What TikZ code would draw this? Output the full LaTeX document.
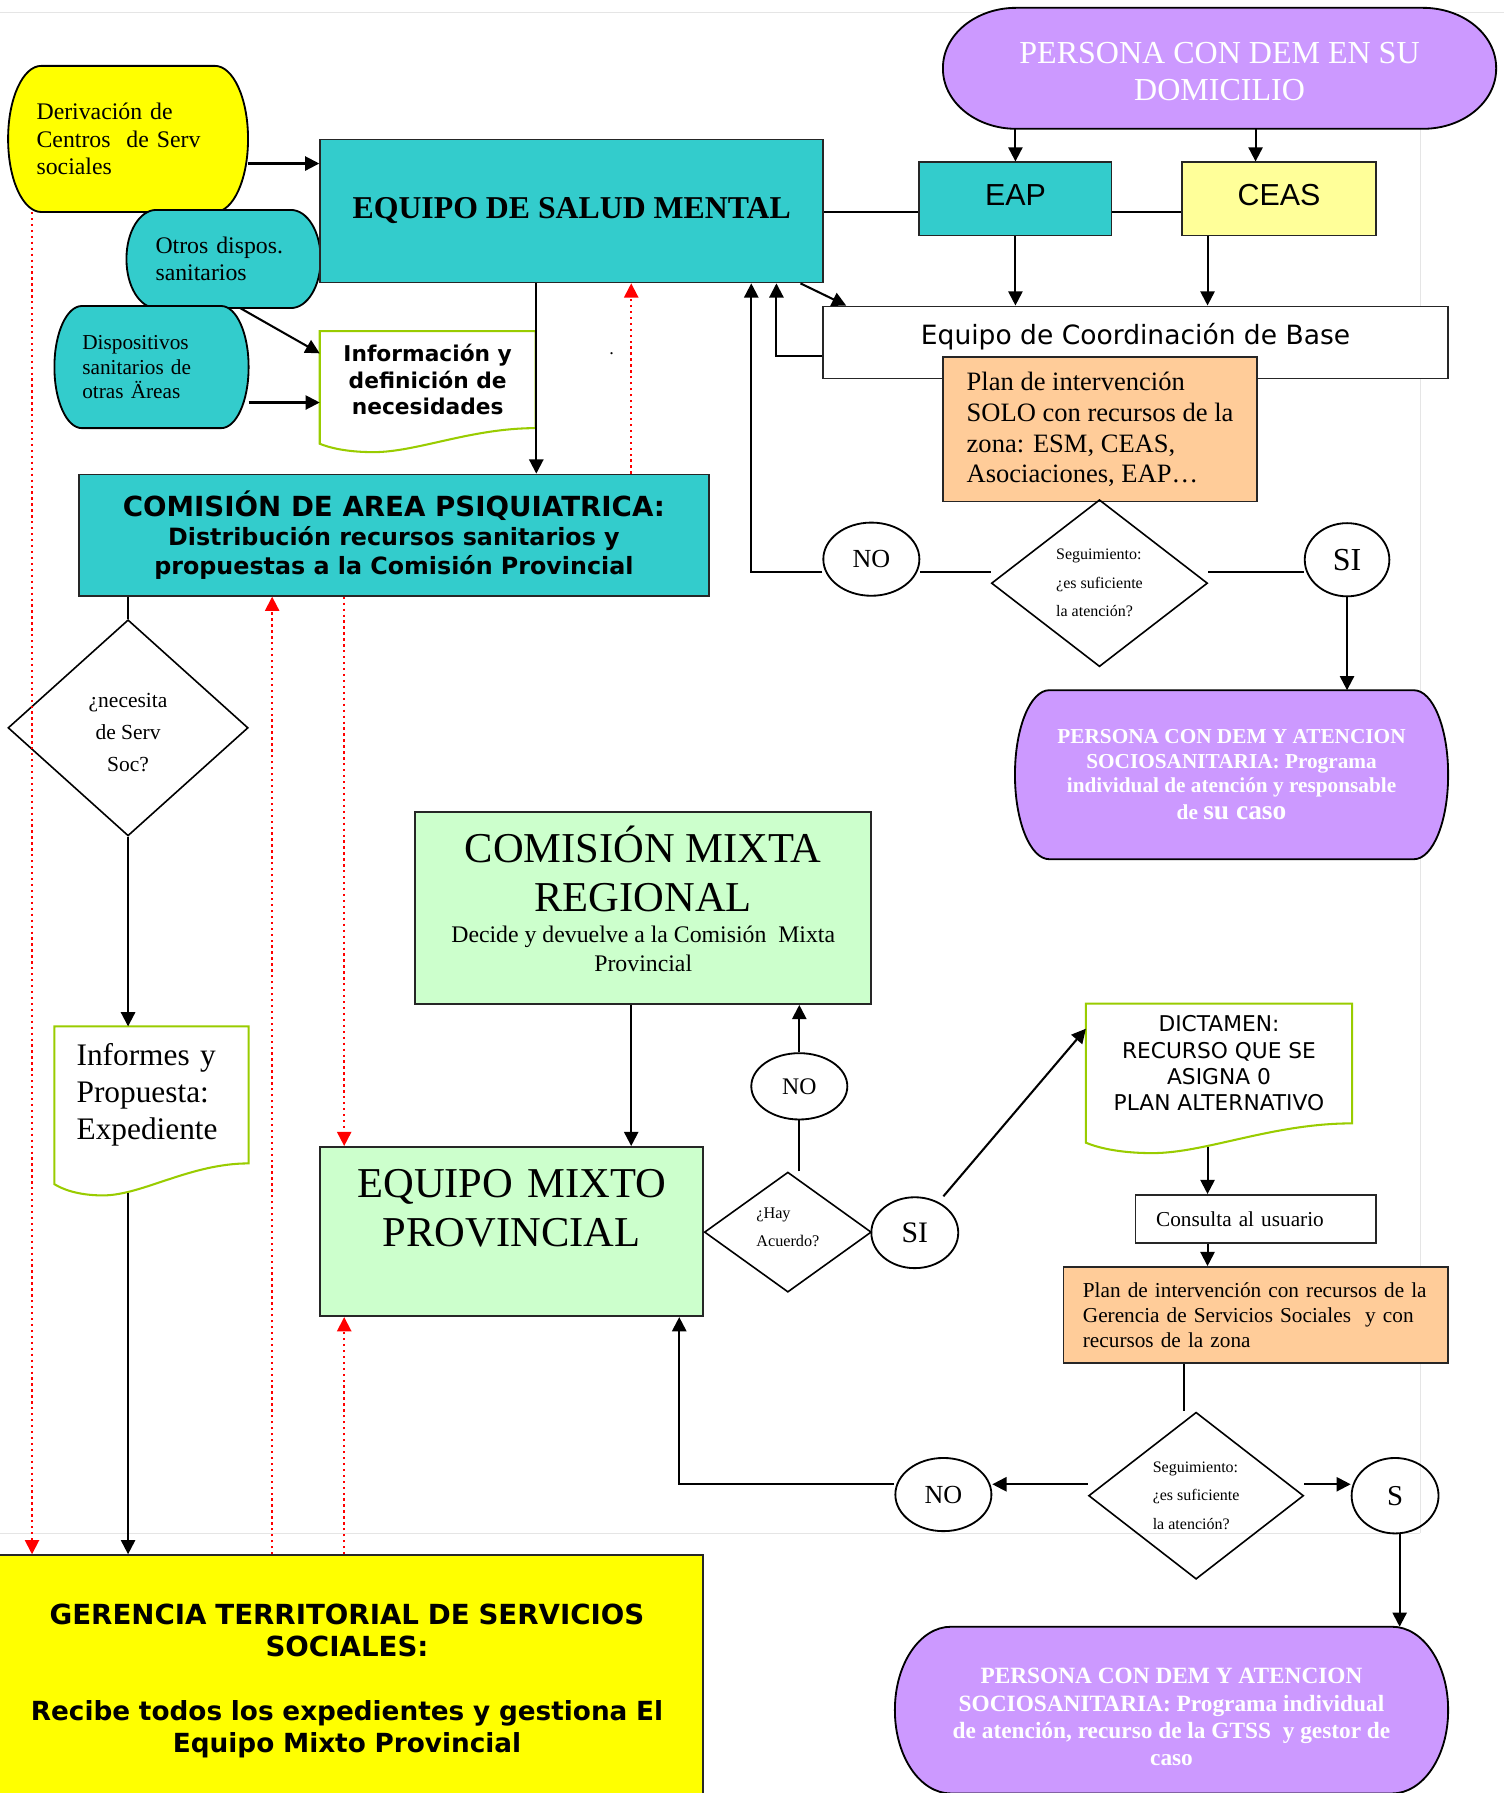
\documentclass[tikz,border=0pt]{standalone}
\usepackage{fontspec}
\setmainfont{Liberation Serif}
\newfontfamily\verdana{DejaVu Sans}
\newfontfamily\arial{Liberation Sans}
\usetikzlibrary{shapes.geometric,arrows.meta,calc}

\definecolor{cyanbox}{HTML}{33CCCC}
\definecolor{lila}{HTML}{CC99FF}
\definecolor{naranja}{HTML}{FFCC99}
\definecolor{verdeclaro}{HTML}{CCFFCC}
\definecolor{amarillo}{HTML}{FFFF00}
\definecolor{amarilloclaro}{HTML}{FFFF99}
\definecolor{verdedoc}{HTML}{99CC00}

\pgfdeclarelayer{fondo}
\pgfsetlayers{fondo,main}

\newcommand{\fsz}[2]{\fontsize{#1}{#2}\selectfont}

\newcommand{\globobox}[4]{%
  \begin{pgfonlayer}{fondo}
  \path[#4] let \p1=(#1.south west), \p2=(#1.north east) in
    (\x1+#2,\y2) -- (\x2-#2,\y2) arc[start angle=90, end angle=0, x radius=#2, y radius=#3]
    -- (\x2,\y1+#3) arc[start angle=0, end angle=-90, x radius=#2, y radius=#3]
    -- (\x1+#2,\y1) arc[start angle=270, end angle=180, x radius=#2, y radius=#3]
    -- (\x1,\y2-#3) arc[start angle=180, end angle=90, x radius=#2, y radius=#3] -- cycle;
  \end{pgfonlayer}}

\newcommand{\hojabox}[2]{%
  \begin{pgfonlayer}{fondo}
  \path[docline] let \p1=(#1.south west), \p2=(#1.north east), \n1={\x2-\x1} in
    (\x1,\y1-0.65*#2) -- (\x1,\y2) -- (\x2,\y2) -- (\x2,\y1)
    .. controls (\x2-0.3*\n1,\y1) and (\x1+0.45*\n1,\y1-#2) .. (\x1+0.25*\n1,\y1-#2)
    .. controls (\x1+0.12*\n1,\y1-#2) and (\x1+0.04*\n1,\y1-0.8*#2) .. (\x1,\y1-0.65*#2) -- cycle;
  \end{pgfonlayer}}

\begin{document}
\begin{tikzpicture}[x=0.5pt, y=-0.5pt,
    caja/.style = {rectangle, draw=black!85, line width=0.8pt, inner sep=2pt},
    rombo/.style = {diamond, draw, line width=0.7pt, inner sep=0pt},
    globo/.style = {ellipse, draw, line width=0.8pt, inner sep=0pt},
    texto/.style = {inner sep=0pt},
    flecha/.style = {line width=0.9pt, -{Triangle[length=6.2pt,width=6.2pt]}},
    linea/.style = {line width=0.9pt},
    rojo/.style = {red, line width=0.8pt, dash pattern=on 1pt off 1.6pt, -{Triangle[length=6.2pt,width=6.2pt]}},
    docline/.style = {fill=white, draw=verdedoc, line width=0.9pt},
    borde/.style = {draw=gray!20, line width=0.5pt}]

  \useasboundingbox (0,0) rectangle (1315,1568);
  \begin{pgfonlayer}{fondo}
    \draw[borde] (0,11) -- (1315,11) (1242,11) -- (1242,1341) (0,1341) -- (1242,1341);
  \end{pgfonlayer}

  \node[texto, minimum width=104.5pt, minimum height=63.5pt, text width=80pt, align=left, font={\fsz{10.4}{12}}] (der) at (112,121.5) {Derivación de\\Centros\ \ de Serv\\sociales};
  \globobox{der}{14.5pt}{31.75pt}{fill=amarillo, draw, line width=0.8pt}
  \node[texto, minimum width=84.5pt, minimum height=42.5pt, text width=59.5pt, align=left, font={\fsz{10.4}{12}}] (otros) at (195.5,226.5) {Otros dispos.\\sanitarios};
  \globobox{otros}{13pt}{21.25pt}{fill=cyanbox, draw, line width=0.8pt}
  \node[texto, minimum width=84.5pt, minimum height=53pt, text width=60.5pt, align=left, font={\fsz{9.3}{10.5}}] (disp) at (132.5,321) {Dispositivos\\sanitarios de\\otras Äreas};
  \globobox{disp}{12pt}{26.5pt}{fill=cyanbox, draw, line width=0.8pt}

  \node[caja, fill=cyanbox, minimum width=220pt, minimum height=62.5pt, font={\fsz{13.9}{16}\bfseries}] (esm) at (500,184.5) {EQUIPO DE SALUD MENTAL};
  \node[texto, minimum width=94pt, minimum height=42pt, align=center, font={\fsz{9.5}{11.5}\verdana\bfseries}] (infodef) at (374,332) {Información y\\definición de\\necesidades};
  \hojabox{infodef}{10.5pt}
  \node[texto, font={\fsz{8}{8}}] (punto) at (535,309) {.};

  \node[texto, minimum width=241.5pt, minimum height=52.5pt, align=center, text=white, font={\fsz{14}{16}}] (dom) at (1066.5,59.75) {\rule{0pt}{12.2pt}PERSONA CON DEM EN SU\\DOMICILIO};
  \globobox{dom}{32pt}{26.25pt}{fill=lila, draw, line width=0.8pt}
  \node[caja, fill=cyanbox, minimum width=84pt, minimum height=32pt, text height=9.5pt, text depth=4pt, font={\fsz{13.3}{15}\arial}] (eap) at (888,174) {EAP};
  \node[caja, fill=amarilloclaro, minimum width=84.5pt, minimum height=32pt, text height=9.5pt, text depth=4pt, font={\fsz{13.3}{15}\arial}] (ceas) at (1118.5,174) {CEAS};
  \node[caja, fill=white, minimum width=273pt, minimum height=31.5pt, text height=9pt, text depth=7.1pt, font={\fsz{11.6}{14}\verdana}] (ecb) at (993,299.5) {Equipo de Coordinación de Base};
  \node[caja, fill=naranja, minimum width=137pt, minimum height=63pt, align=left, font={\fsz{11.6}{13.5}}] (plan1) at (962,375.5) {Plan de intervención\\SOLO con recursos de la\\zona: ESM, CEAS,\\Asociaciones, EAP…};
  \node[rombo, minimum width=94.5pt, minimum height=73pt, align=left, font={\fsz{7}{12.5}}] (seg1) at (961.5,510) {Seguimiento:\\¿es suficiente\\la atención?};
  \node[globo, minimum width=42pt, minimum height=32pt, font={\fsz{11.4}{12}}] (no1) at (762,489) {NO};
  \node[globo, minimum width=37pt, minimum height=32pt, font={\fsz{14}{14}}] (si1) at (1178,489.5) {SI};
  \node[texto, minimum width=189pt, minimum height=73.5pt, align=center, text=white, font={\fsz{9.3}{10.75}\bfseries}] (per2) at (1077,677.5) {PERSONA CON DEM Y ATENCION\\SOCIOSANITARIA: Programa\\individual de atención y responsable\\[1pt]de {\fsz{12}{12}su caso}};
  \globobox{per2}{15pt}{36.75pt}{fill=lila, draw, line width=0.8pt}

  \node[caja, fill=cyanbox, minimum width=275.5pt, minimum height=53pt, align=center, font={\fsz{10.4}{12.6}\verdana\bfseries}] (cap) at (344.5,468) {{\fsz{12.1}{12.6}COMISIÓN DE AREA PSIQUIATRICA:}\\Distribución recursos sanitarios y\\propuestas a la Comisión Provincial};
  \node[rombo, minimum width=105pt, minimum height=94.5pt, align=center, font={\fsz{9.4}{14}}] (nec) at (112,636.5) {\rule{0pt}{10.4pt}¿necesita\\de Serv\\Soc?};
  \node[texto, minimum width=84.5pt, minimum height=59.5pt, text width=65.5pt, align=left, font={\fsz{13.7}{16.25}}] (inf) at (132.5,957.5) {Informes y\\Propuesta:\\Expediente};
  \hojabox{inf}{14pt}

  \node[caja, fill=verdeclaro, minimum width=199.5pt, minimum height=84pt, align=center, font={\fsz{10.4}{12.5}}] (cmr) at (562.5,794) {{\fsz{18.6}{21.5}COMISIÓN MIXTA}\\[9pt]{\fsz{18.6}{21.5}REGIONAL}\\[1pt]Decide y devuelve a la Comisión\ \ Mixta\\Provincial\rule[-8pt]{0pt}{8pt}};
  \node[caja, fill=verdeclaro, minimum width=167.5pt, minimum height=74pt, text width=160pt, align=center, text height=13pt, text depth=43pt, font={\fsz{18.6}{21.5}}] (emp) at (447.5,1077) {EQUIPO MIXTO\\PROVINCIAL};
  \node[rombo, minimum width=73pt, minimum height=52.5pt, align=left, font={\fsz{7.1}{12}}] (hay) at (689,1077.5) {¿Hay\\Acuerdo?\rule[-4.2pt]{0pt}{4.2pt}};
  \node[globo, minimum width=42pt, minimum height=29pt, font={\fsz{10.4}{11}}] (no2) at (699,950) {NO};
  \node[globo, minimum width=38pt, minimum height=31pt, font={\fsz{13}{13}}] (si2) at (800,1078) {SI};

  \node[texto, minimum width=116pt, minimum height=52pt, align=center, font={\fsz{9.5}{11.5}\verdana}] (dict) at (1066,930) {DICTAMEN:\\RECURSO QUE SE\\ASIGNA 0\\PLAN ALTERNATIVO};
  \hojabox{dict}{13pt}
  \node[caja, fill=white, minimum width=105pt, minimum height=21pt, text width=87pt, align=left, font={\fsz{9.3}{11}}] (cons) at (1098,1066) {Consulta al usuario};
  \node[caja, fill=naranja, minimum width=168pt, minimum height=42pt, text width=151pt, align=left, font={\fsz{9.3}{11}}] (plan2) at (1098,1150) {Plan de intervención con recursos de la\\Gerencia de Servicios Sociales\ \ y con\\recursos de la zona};
  \node[rombo, minimum width=94pt, minimum height=73pt, align=left, font={\fsz{7}{12.5}}] (seg2) at (1046,1308) {Seguimiento:\\¿es suficiente\\la atención?};
  \node[globo, minimum width=42pt, minimum height=32pt, font={\fsz{11.4}{12}}] (no3) at (825,1307) {NO};
  \node[globo, minimum width=38pt, minimum height=33pt, font={\fsz{12.6}{13}}] (s) at (1220,1308) {S};
  \node[texto, minimum width=241.5pt, minimum height=72.5pt, align=center, text=white, font={\fsz{10.2}{12}\bfseries}] (per3) at (1024.5,1495.5) {\rule{0pt}{12.9pt}PERSONA CON DEM Y ATENCION\\SOCIOSANITARIA: Programa individual\\de atención, recurso de la GTSS\ \ y gestor de\\caso};
  \globobox{per3}{24.5pt}{36.25pt}{fill=lila, draw, line width=0.8pt}

  \node[caja, fill=amarillo, minimum width=311.5pt, minimum height=110pt, text width=300pt, align=center, font={\fsz{11.5}{14}\verdana\bfseries}] (ger) at (303.5,1470) {{\fsz{12.1}{14}GERENCIA TERRITORIAL DE SERVICIOS\\SOCIALES:}\\[14pt]Recibe todos los expedientes y gestiona El\\Equipo Mixto Provincial};

  \draw[flecha] (der.east |- 0,143) -- (esm.west |- 0,143);
  \draw[flecha] (otros.south -| 210,0) -- (infodef.west |- 0,309);
  \draw[flecha] (disp.east |- 0,352) -- (infodef.west |- 0,352);

  \draw[linea] (esm.east |- 0,185) -- (eap.west |- 0,185);
  \draw[linea] (eap.east |- 0,185) -- (ceas.west |- 0,185);
  \draw[flecha] (dom.south -| eap.north) -- (eap.north);
  \draw[flecha] (dom.south -| 1098,0) -- (ceas.north -| 1098,0);
  \draw[flecha] (eap.south) -- (ecb.north -| eap.south);
  \draw[flecha] (ceas.south -| 1056,0) -- (ecb.north -| 1056,0);
  \draw[flecha] (esm.south -| 700,0) -- (ecb.north -| 740,0);
  \draw[flecha] (ecb.west |- 0,311) -| (esm.south -| 679,0);
  \draw[flecha] (no1.west |- 0,500) -| (esm.south -| 657,0);
  \draw[linea] (seg1.west |- 0,500) -- (no1.east |- 0,500);
  \draw[linea] (seg1.east |- 0,500) -- (si1.west |- 0,500);
  \draw[flecha] (si1.south) -- (per2.north -| si1.south);

  \draw[flecha] (esm.south -| 469,0) -- (cap.north -| 469,0);
  \draw[rojo] (cap.north -| 552,0) -- (esm.south -| 552,0);
  \draw[linea] (cap.south -| nec.north) -- (nec.north);
  \draw[flecha] (nec.south) -- (inf.north -| nec.south);
  \draw[flecha] ($(inf.south -| nec.south)+(0,26)$) -- (ger.north -| nec.south);
  \draw[rojo] (der.south -| 28,0) -- (ger.north -| 28,0);
  \draw[rojo] (ger.north -| 238,0) -- (cap.south -| 238,0);
  \draw[rojo] (cap.south -| 301,0) -- (emp.north -| 301,0);
  \draw[rojo] (ger.north -| 301,0) -- (emp.south -| 301,0);

  \draw[flecha] (cmr.south -| 552,0) -- (emp.north -| 552,0);
  \draw[linea] (hay.north -| no2.south) -- (no2.south);
  \draw[flecha] (no2.north) -- (cmr.south -| no2.north);
  \draw[flecha] (si2.north -| 825,0) -- ($(dict.north west)+(0,22)$);
  \draw[flecha] ($(dict.south -| 1056,0)+(0,21)$) -- (cons.north -| 1056,0);
  \draw[flecha] (cons.south -| 1056,0) -- (plan2.north -| 1056,0);
  \draw[linea] (plan2.south -| 1035,0) -- (seg2.north -| 1035,0);
  \draw[flecha] (seg2.west |- 0,1298) -- (no3.east |- 0,1298);
  \draw[flecha] (no3.west |- 0,1298) -| (emp.south -| 594,0);
  \draw[flecha] (seg2.east |- 0,1298) -- (s.west |- 0,1298);
  \draw[flecha] (s.south -| 1224,0) -- (per3.north -| 1224,0);
\end{tikzpicture}
\end{document}
